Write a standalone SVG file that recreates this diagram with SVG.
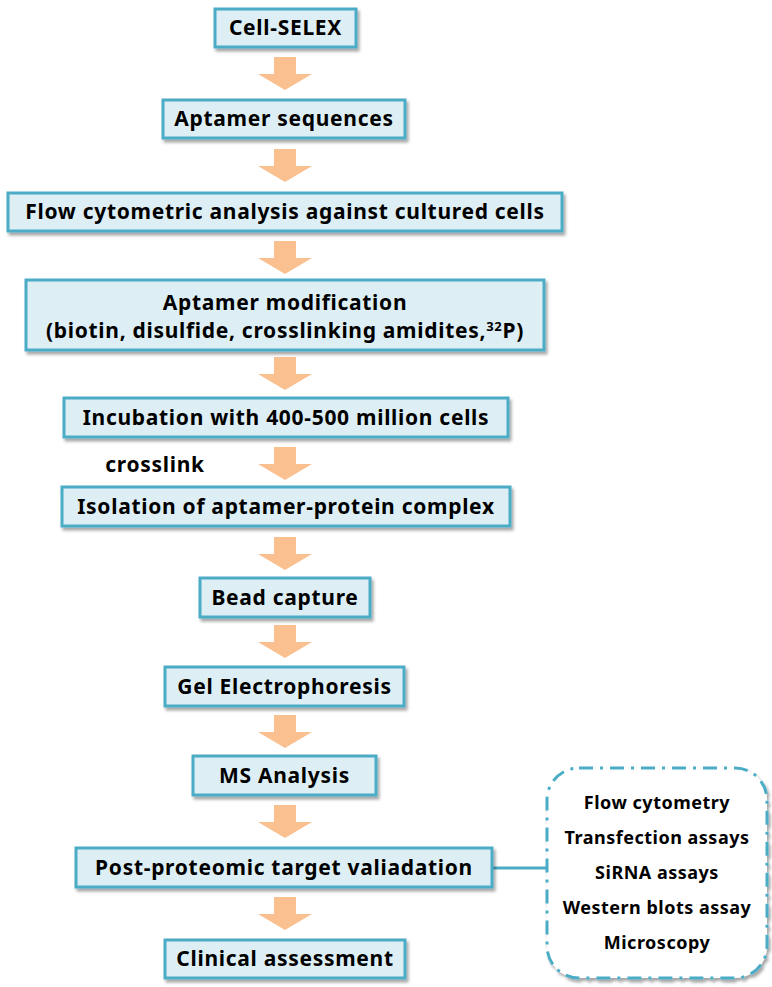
<svg xmlns="http://www.w3.org/2000/svg" width="772" height="987" viewBox="0 0 772 987">
<defs>
<filter id="sh" x="-10%" y="-20%" width="120%" height="150%">
<feDropShadow dx="2" dy="3" stdDeviation="1.5" flood-color="#000" flood-opacity="0.35"/>
</filter>
<polygon id="arr" points="-11,0 11,0 11,17 27,17 0,33 -27,17 -11,17"/>
</defs>
<style>
.box{fill:#DDEFF5;stroke:#4BACC6;stroke-width:3;filter:url(#sh)}
.t{font-family:"Noto Sans","Open Sans",sans-serif;font-weight:bold;font-size:21px;letter-spacing:0.7px;fill:#000;text-anchor:middle}
.s{font-family:"Noto Sans","Open Sans",sans-serif;font-weight:bold;font-size:18px;letter-spacing:0.5px;fill:#000;text-anchor:middle}
.a{fill:#FAC090}
</style>
<rect width="772" height="987" fill="#fff"/>
<g id="connectors">
<use href="#arr" class="a" x="285" y="57"/>
<use href="#arr" class="a" x="285" y="149"/>
<use href="#arr" class="a" x="285" y="241"/>
<use href="#arr" class="a" x="285" y="357"/>
<use href="#arr" class="a" x="285" y="447"/>
<use href="#arr" class="a" x="285" y="537"/>
<use href="#arr" class="a" x="285" y="625"/>
<use href="#arr" class="a" x="285" y="715"/>
<use href="#arr" class="a" x="285" y="805"/>
<use href="#arr" class="a" x="285" y="897"/>
<line x1="493" y1="868" x2="547" y2="868" stroke="#4BACC6" stroke-width="3"/>
<text class="t" x="155" y="472">crosslink</text>
</g>
<g id="n1"><rect class="box" x="215" y="9" width="141" height="38"/><text class="t" x="285.5" y="35">Cell-SELEX</text></g>
<g id="n2"><rect class="box" x="163" y="100" width="242" height="38"/><text class="t" x="284" y="126">Aptamer sequences</text></g>
<g id="n3"><rect class="box" x="8" y="193" width="554" height="38"/><text class="t" x="285" y="219">Flow cytometric analysis against cultured cells</text></g>
<g id="n4"><rect class="box" x="26" y="280" width="518" height="70"/><text class="t" x="285" y="310">Aptamer modification</text><text class="t" x="285" y="338">(biotin, disulfide, crosslinking amidites,<tspan dy="-7" style="font-size:13px">32</tspan><tspan dy="7">P)</tspan></text></g>
<g id="n5"><rect class="box" x="64" y="398" width="444" height="39"/><text class="t" x="286" y="425">Incubation with 400-500 million cells</text></g>
<g id="n6"><rect class="box" x="62" y="487" width="448" height="39"/><text class="t" x="286" y="514">Isolation of aptamer-protein complex</text></g>
<g id="n7"><rect class="box" x="200" y="578" width="170" height="39"/><text class="t" x="285" y="605">Bead capture</text></g>
<g id="n8"><rect class="box" x="165" y="667" width="239" height="39"/><text class="t" x="284.5" y="694">Gel Electrophoresis</text></g>
<g id="n9"><rect class="box" x="193" y="756" width="183" height="39"/><text class="t" x="284.5" y="783">MS Analysis</text></g>
<g id="n10"><rect class="box" x="76" y="848" width="416" height="39"/><text class="t" x="284" y="875">Post-proteomic target valiadation</text></g>
<g id="n11"><rect class="box" x="165" y="940" width="240" height="38"/><text class="t" x="285" y="966">Clinical assessment</text></g>
<g id="n12"><rect x="547" y="768" width="220" height="210" rx="32" fill="#fff" stroke="#4BACC6" stroke-width="3" stroke-dasharray="14 7 3 7" filter="url(#sh)"/>
<text class="s" x="657" y="809">Flow cytometry</text>
<text class="s" x="657" y="844">Transfection assays</text>
<text class="s" x="657" y="879">SiRNA assays</text>
<text class="s" x="657" y="914">Western blots assay</text>
<text class="s" x="657" y="949">Microscopy</text>
</g>
</svg>
